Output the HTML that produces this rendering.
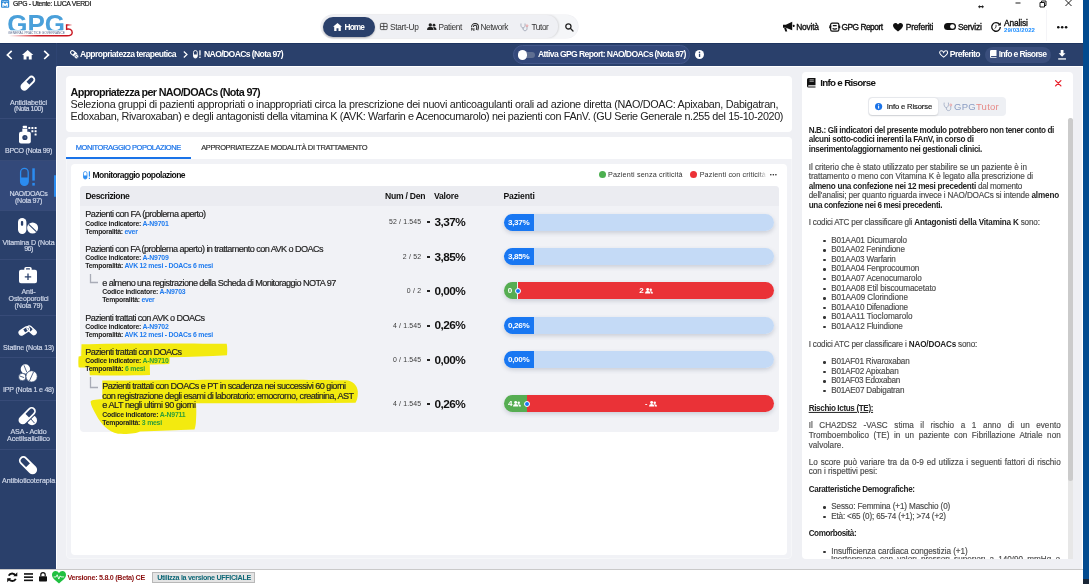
<!DOCTYPE html>
<html lang="it">
<head>
<meta charset="utf-8">
<title>GPG - Utente: LUCA VERDI</title>
<style>
*{box-sizing:border-box;margin:0;padding:0}
html,body{width:1089px;height:584px;overflow:hidden;background:#fff}
body{position:relative;font-family:"Liberation Sans",sans-serif;color:#222;font-size:9px}
body>div{will-change:transform}
.abs{position:absolute}
.t{position:absolute;white-space:nowrap;line-height:1;transform:translateY(-50%)}
.b{font-weight:bold}
.w{color:#fff}
svg{position:absolute;overflow:visible}
#titlebar{position:absolute;left:0;top:0;width:1083px;height:10px;background:#fff}
#header{position:absolute;left:0;top:10px;width:1083px;height:33px;background:#fff}
#navbar{position:absolute;left:0;top:43.300px;width:1083px;height:23px;background:#2a406b;box-shadow:inset 0 1px 0 #1e3560}
#sidebar{position:absolute;left:0;top:66px;width:57px;height:503px;background:#2a406b}
#main{position:absolute;left:56px;top:66px;width:1026px;height:503px;background:#eff0f4;border-top-left-radius:2px;box-shadow:inset 1px 1px 0 #fff}
#statusbar{position:absolute;left:0;top:569px;width:1083px;height:15px;background:#fff;border-top:1px solid #c9c9c9}
#edge{position:absolute;left:1083px;top:0;width:6px;height:584px;background:#024b8f}
#edge i{position:absolute;left:0;bottom:0;width:6px;height:5.500px;background:#1a2636}
.side{position:absolute;left:0;width:57px;border-bottom:1px solid #374b78}
.side .t{left:0;width:57px;text-align:center;color:#cdd5e7;font-size:7.1px;-webkit-text-stroke:0.2px #cdd5e7;transform:translateY(-50%)}
.card{position:absolute;background:#fff;border-radius:4px}
.side .t i{font-style:normal}
.hn{color:#333;font-size:8.3px}
.hr{font-size:8.400px;color:#111;-webkit-text-stroke:0.350px #111}
#mc{position:absolute;left:-56px;top:-66px;width:0;height:0}
.row-t{font-size:9.1px;color:#222;-webkit-text-stroke:0.180px #222}
.sm{font-size:6.9px;font-weight:bold;color:#222}
.lk{color:#1f7bef}
.lg{color:#2f9e3a}
.nd{font-size:6.9px;color:#3a3a3a}
.val{font-size:11.8px;font-weight:bold;color:#111}
.bar{position:absolute;left:503.5px;width:270px;height:17px;border-radius:8.5px;overflow:hidden;box-shadow:0 2px 4px rgba(70,80,110,.22)}
.bar b{position:absolute;top:0;height:17px}
.p{font-size:8.15px;color:#4a4a4a;-webkit-text-stroke:0.150px #4a4a4a}
.p b,.pb{color:#222;font-weight:bold;-webkit-text-stroke:0}

</style>
</head>
<body>

<!-- ===== window title bar ===== -->
<div id="titlebar">
  <svg style="left:1px;top:0" width="8.200" height="7.800" viewBox="0 0 8.200 7.800"><rect width="8.200" height="7.800" rx="1" fill="#2f8ad8"/><path d="M1.300 6.800V3.200L2.700 2.600 4.100 4.300 5.500 2.600 6.900 3.200V6.800H5.600V5L4.100 6.400 2.600 5V6.800z" fill="#fff"/><path d="M1.500 1.400h5.200" stroke="#fff" stroke-width="0.700" stroke-dasharray="1 0.400"/></svg>
  <span class="t" style="left:13px;top:4px;font-size:6.800px;color:#111;-webkit-text-stroke:0.200px #222;letter-spacing:-0.307px">GPG - Utente: LUCA VERDI</span>
  <svg style="left:977.500px;top:5px" width="6" height="3.400" viewBox="0 0 6 3.400" fill="#222"><path d="M0 1.700L1.800 0v1.100h2.400V0L6 1.700 4.200 3.400V2.300H1.800v1.100z"/></svg>
  <svg style="left:1015px;top:0" width="60" height="9" viewBox="0 0 60 9" fill="none" stroke="#111" stroke-width="0.950"><path d="M0.500 3h5"/><path d="M25 2.500h4.500v4.500H25zM26.500 2.500V1h4.500v4.500h-1.500"/><path d="M50.500 0l6 6M56.500 0l-6 6"/></svg>
</div>

<!-- ===== application header ===== -->
<div id="header">
  <!-- logo -->
  <svg style="left:6.300px;top:3px" width="70" height="27" viewBox="0 0 70 27">
    <defs><linearGradient id="lg" x1="0" x2="1"><stop offset="0" stop-color="#d5202a" stop-opacity="0"/><stop offset="0.450" stop-color="#cf1d27"/><stop offset="1" stop-color="#c8141e"/></linearGradient>
    <linearGradient id="lg2" x1="0" x2="1"><stop offset="0.300" stop-color="#c8141e"/><stop offset="1" stop-color="#c8141e" stop-opacity="0"/></linearGradient></defs>
    <text x="1.300" y="20.100" font-family="Liberation Sans, sans-serif" font-weight="bold" font-size="25.200" fill="#4aa0da" textLength="57.800" lengthAdjust="spacingAndGlyphs">GPG</text>
    <rect x="0" y="17.300" width="61" height="7" fill="#fff"/>
    <text x="2" y="20.700" font-family="Liberation Sans, sans-serif" font-size="3.500" fill="#56678c" textLength="57" lengthAdjust="spacingAndGlyphs">GENERAL PRACTICE GOVERNANCE</text>
    <path d="M60.600 11.800V16.300C63.200 15.600 66.200 16.400 66.200 19.400 66.200 22 64 22.800 61 22.800H3" fill="none" stroke="url(#lg)" stroke-width="1.400"/>
    <rect x="59.900" y="11.300" width="6.500" height="1.300" fill="url(#lg2)"/>
  </svg>

  <!-- centre navigation pill -->
  <div class="abs" style="left:321px;top:4.800px;width:256.500px;height:23.400px;border-radius:11.700px;background:#f5f6f8;box-shadow:0 0 0 0.600px #eeeef2"></div>
  <div class="abs" style="left:321.500px;top:5.300px;width:236px;height:22.400px;border-radius:11.200px;background:#eff0f4;box-shadow:1px 0 2px rgba(0,0,0,.12)"></div>
  <div class="abs" style="left:322.500px;top:6.500px;width:52px;height:20px;border-radius:10px;background:#2a406b;box-shadow:0 1px 2px rgba(0,0,0,.25)"></div>
  <svg style="left:333px;top:12.500px" width="9" height="8" viewBox="0 0 9 8"><path d="M4.500 0L0 3.800h1.200V8h2.300V5.200h2V8h2.300V3.800H9z" fill="#fff"/></svg>
  <span class="t b w" style="left:344.600px;top:17px;font-size:8.300px;letter-spacing:-0.941px">Home</span>

  <svg style="left:380.400px;top:13px" width="7.500" height="7" viewBox="0 0 7.500 7" fill="none" stroke="#333" stroke-width="0.800"><rect x="0.400" y="0.400" width="6.700" height="6.200" rx="0.800"/><path d="M0.400 3.500h6.700M3.750 0.400v6.200"/></svg>
  <span class="t hn" style="left:390px;top:17px;letter-spacing:-0.299px">Start-Up</span>
  <svg style="left:427.300px;top:13px" width="9.500" height="7" viewBox="0 0 9.500 7" fill="#222"><circle cx="3.300" cy="1.900" r="1.700"/><path d="M0 7c0-2.300 1.400-3.200 3.300-3.200S6.600 4.700 6.600 7z"/><circle cx="7" cy="2.200" r="1.400"/><path d="M7.300 7h2.200c0-2.200-1-3-2.500-3-.4 0-.7.100-1 .2.800.6 1.300 1.500 1.300 2.800z"/></svg>
  <span class="t hn" style="left:438.600px;top:17px;letter-spacing:-0.349px">Patient</span>
  <svg style="left:470.500px;top:12.900px" width="7.800" height="7.800" viewBox="0 0 8.500 8.500" fill="none" stroke="#222" stroke-width="1.100"><path d="M0.600 4.500C0.600 2.200 2.300 0.600 4.500 0.600s3.600 1.500 3.600 3.400c0 1.600-.3 2.800-.8 3.800M2.600 4.400c0-1.100.8-1.900 1.900-1.900s1.800.8 1.800 1.800c0 1.300-.2 2.300-.6 3.200"/><path d="M0.700 8.300V5.400l2.500 2.900V5.400" stroke-width="0.900"/></svg>
  <span class="t hn" style="left:480.400px;top:17px;letter-spacing:-0.405px">Network</span>
  <svg style="left:520.400px;top:13px" width="8.500" height="8" viewBox="0 0 8.500 8" fill="none" stroke="#8c93a5" stroke-width="0.700"><path d="M1 0.500C0.500 3 1.500 5 3 5s2.500-2 2-4.500M3 5c0 2 .8 2.700 2 2.700S7 7 7 5.500V3.500"/><circle cx="7" cy="2.700" r="0.900" stroke="#e58a8a"/></svg>
  <span class="t hn" style="left:531.400px;top:17px;letter-spacing:-0.392px">Tutor</span>
  <svg style="left:564.500px;top:12.500px" width="8.500" height="8.500" viewBox="0 0 8.500 8.500" fill="none" stroke="#222" stroke-width="1.300"><circle cx="3.400" cy="3.400" r="2.600"/><path d="M5.300 5.300L8 8" stroke-linecap="round"/></svg>

  <!-- right tools -->
  <svg style="left:783px;top:11.300px" width="11.500" height="11" viewBox="0 0 10 9" fill="#111"><path d="M0 3h2.500L8 0.300v7.400L2.500 5.500H0zM1 5.800h1.800l.9 3H2z"/><rect x="8.600" y="3" width="1.400" height="2" rx="0.500"/></svg>
  <span class="t hr" style="left:796.300px;top:17px;letter-spacing:-0.225px">Novità</span>
  <svg style="left:828.800px;top:11.500px" width="11.500" height="10" viewBox="0 0 10.500 9" fill="none" stroke="#111" stroke-width="1.100"><rect x="1.500" y="1" width="7.500" height="7.300" rx="1.300"/><path d="M0.300 3.300l1.200 1L0.300 5.500M10.200 3.300L9 4.300l1.200 1.200M3.300 5.800c.7.800 3.200.8 3.900 0M3.500 3.200h3.500"/></svg>
  <span class="t hr" style="left:841.400px;top:17px;letter-spacing:-0.489px">GPG Report</span>
  <svg style="left:892.900px;top:12.500px" width="10" height="8.500" viewBox="0 0 10 8.500"><path d="M5 8.500C1.500 5.800 0 4.300 0 2.500 0 1 1.100 0 2.500 0 3.500 0 4.500.6 5 1.500 5.500.6 6.500 0 7.500 0 8.900 0 10 1 10 2.500c0 1.800-1.500 3.300-5 6z" fill="#111"/></svg>
  <span class="t hr" style="left:905.700px;top:17px;letter-spacing:-0.140px">Preferiti</span>
  <svg style="left:943.500px;top:13.400px" width="12" height="7" viewBox="0 0 12 7"><rect width="12" height="7" rx="3.500" fill="#111"/><circle cx="8.400" cy="3.500" r="2.300" fill="#fff"/></svg>
  <span class="t hr" style="left:957.900px;top:17px;letter-spacing:-0.192px">Servizi</span>
  <svg style="left:991.300px;top:12px" width="10" height="10" viewBox="0 0 10 10" fill="none" stroke="#111" stroke-width="1.350"><path d="M8.600 2.600A4.300 4.300 0 1 0 9.300 5"/><path d="M9.800 0.300v3.100H6.700z" fill="#111" stroke="none"/><path d="M5 2.800V5.300L3.600 6.500" stroke-width="0.800"/></svg>
  <span class="t hr" style="left:1004px;top:13.300px;letter-spacing:-0.139px">Analisi</span>
  <span class="t b" style="left:1004px;top:20.100px;font-size:6px;color:#1a8cff;letter-spacing:0.097px">29/03/2022</span>
  <div class="abs" style="left:1046px;top:0;width:1px;height:31px;background:#f4f4f7"></div>
  <svg style="left:1057.200px;top:15.700px" width="10.400" height="2.600" viewBox="0 0 10.400 2.600" fill="#111"><circle cx="1.300" cy="1.300" r="1.300"/><circle cx="5.200" cy="1.300" r="1.300"/><circle cx="9.100" cy="1.300" r="1.300"/></svg>
</div>

<!-- ===== navy breadcrumb bar ===== -->
<div id="navbar">
  <svg style="left:0;top:0" width="57" height="23" viewBox="0 43.300 57 23" fill="none" stroke="#fff" stroke-width="1.700"><path d="M11.700 51.100L7.400 55.200l4.300 4.100"/><path d="M44.200 51.100l4.300 4.100-4.300 4.100"/><path d="M27.650 50.300L22 55.300h1.600v4.600h2.900v-3.100h2.300v3.100h2.900v-4.600h1.600z" fill="#fff" stroke="none"/></svg>
  <div class="abs" style="left:55.500px;top:0;width:1px;height:23px;background:#2e4472"></div>
  <svg style="left:69.500px;top:7px" width="9" height="9" viewBox="0 0 9 9"><g transform="rotate(38 3.600 3.400)"><rect x="0.200" y="1.600" width="7" height="3.600" rx="1.800" fill="none" stroke="#fff" stroke-width="1.100"/><path d="M3.700 1.600h1.700a1.800 1.800 0 0 1 0 3.600H3.700z" fill="#fff"/></g><circle cx="6.500" cy="6.600" r="2.100" fill="#fff" stroke="#2a406b" stroke-width="0.500"/><path d="M5.200 5.500l2.600 2.200" stroke="#2a406b" stroke-width="0.600"/></svg>
  <span class="t b w" style="left:80px;top:11.400px;font-size:8.600px;letter-spacing:-0.551px">Appropriatezza terapeutica</span>
  <svg style="left:183px;top:8.300px" width="5" height="7" viewBox="0 0 5 7" fill="none" stroke="#fff" stroke-width="1.200"><path d="M0.800 0.500L4 3.500 0.800 6.500"/></svg>
  <svg style="left:193px;top:7.300px" width="8.500" height="8.500" viewBox="0 0 8.500 8.500"><rect x="0.500" y="0.500" width="3.800" height="7.500" rx="1.900" fill="none" stroke="#fff" stroke-width="0.900"/><path d="M0.500 4.500h3.800v1.600a1.900 1.900 0 0 1-3.800 0z" fill="#fff"/><rect x="6.300" y="0.300" width="1.300" height="5.200" fill="#fff"/><rect x="6.300" y="6.600" width="1.300" height="1.400" fill="#fff"/></svg>
  <span class="t b w" style="left:204px;top:11.400px;font-size:8.600px;letter-spacing:-0.618px">NAO/DOACs (Nota 97)</span>

  <div class="abs" style="left:513px;top:2px;width:177.300px;height:19px;border-radius:9.500px;background:#33487a;border:1px solid #43578a"></div>
  <div class="abs" style="left:518px;top:8.600px;width:16.500px;height:6.500px;border-radius:3.300px;background:#5f6f92"></div>
  <div class="abs" style="left:517.500px;top:7px;width:9.500px;height:9.500px;border-radius:50%;background:#fff"></div>
  <span class="t b w" style="left:538px;top:11.400px;font-size:8.600px;letter-spacing:-0.624px">Attiva GPG Report: NAO/DOACs (Nota 97)</span>
  <svg style="left:695px;top:7px" width="9" height="9" viewBox="0 0 9 9"><circle cx="4.500" cy="4.500" r="4.500" fill="#fff"/><rect x="3.900" y="3.700" width="1.300" height="3.300" fill="#2a406b"/><circle cx="4.500" cy="2.300" r="0.800" fill="#2a406b"/></svg>

  <svg style="left:939px;top:7.300px" width="9.300" height="8.200" viewBox="0 0 10 8.500"><path d="M5 7.600C2 5.300.7 4 .7 2.500.7 1.400 1.500.7 2.500.7c1 0 2 .7 2.500 1.800C5.500 1.400 6.500.7 7.500.7c1 0 1.800.7 1.800 1.800 0 1.500-1.300 2.800-4.300 5.100z" fill="none" stroke="#fff" stroke-width="1.100"/></svg>
  <span class="t b w" style="left:949.800px;top:11.400px;font-size:8.600px;letter-spacing:-0.583px">Preferito</span>
  <div class="abs" style="left:984.700px;top:3.700px;width:66px;height:16.500px;border-radius:8.300px;background:#3a4e7c"></div>
  <svg style="left:989.500px;top:7.400px" width="6.500" height="8" viewBox="0 0 6.500 8"><path d="M1.300 0h5.200v6H1.500a.6.600 0 0 0 0 1.200h5V8H1.300A1.300 1.300 0 0 1 0 6.700V1.300A1.300 1.300 0 0 1 1.300 0z" fill="#fff"/></svg>
  <span class="t b w" style="left:998.700px;top:11.400px;font-size:8.600px;letter-spacing:-0.653px">Info e Risorse</span>
  <svg style="left:1058.200px;top:6.600px" width="8.200" height="10" viewBox="0 0 8.200 10" fill="#fff"><path d="M2.700 0h2.800v3.300h2L4.100 6.800.7 3.300h2z"/><rect x="0.200" y="8.300" width="7.800" height="1.300"/></svg>
</div>

<!-- ===== left sidebar ===== -->
<div id="sidebar">
  <div class="side" style="top:0px;height:53px">
    <svg style="left:0;top:0" width="57" height="53" viewBox="0 66 57 53"><g transform="translate(27.9 83.2) rotate(-45)"><rect x="-7.95" y="-2.95" width="15.90" height="5.90" rx="2.95" fill="none" stroke="#fff" stroke-width="1.8"/><path d="M0 -2.95H-5.00A2.95 2.95 0 0 0 -5.00 2.95H0z" fill="#fff"/></g></svg>
    <span class="t" style="top:37.6px"><i style="letter-spacing:-0.097px">Antidiabetici</i></span><span class="t" style="top:44.0px"><i style="letter-spacing:-0.452px">(Nota 100)</i></span>
  </div>
  <div class="side" style="top:53px;height:42px">
    <svg style="left:0;top:0" width="57" height="42" viewBox="0 119 57 42"><g fill="#fff"><rect x="19" y="131.800" width="11.800" height="11.800" rx="2"/><rect x="22.300" y="128.600" width="5" height="3.500"/><rect x="22.800" y="125.800" width="4.200" height="2.300" rx="0.500"/><circle cx="24.900" cy="137.500" r="2.600" fill="#2a406b"/><circle cx="25.300" cy="137.500" r="0.900" fill="#51648c"/><rect x="28.3" y="127" width="2" height="2" rx="0.300"/><rect x="31.4" y="127" width="2" height="2" rx="0.300"/><rect x="34.6" y="127" width="2" height="2" rx="0.300"/><rect x="31.4" y="130.3" width="2" height="2" rx="0.300"/><rect x="34.6" y="130.3" width="2" height="2" rx="0.300"/><rect x="34.6" y="133.6" width="2" height="2" rx="0.300"/></g></svg>
    <span class="t" style="top:33.2px"><i style="letter-spacing:-0.333px">BPCO (Nota 99)</i></span>
  </div>
  <div class="side" style="top:95px;height:49.700px;background:#33497a">
    <div class="abs" style="left:53.500px;top:14px;width:2.500px;height:22px;border-radius:1.200px;background:#2b8cf0"></div>
    <svg style="left:0;top:0" width="57" height="49" viewBox="0 161 57 49"><rect x="20.600" y="168.400" width="7.600" height="17" rx="3.800" fill="none" stroke="#2b8cf0" stroke-width="1.300"/><path d="M20.600 177.500h7.600v4.100a3.800 3.800 0 0 1-7.600 0z" fill="#2b8cf0"/><rect x="32.300" y="168.300" width="2.500" height="12.300" fill="#2b8cf0"/><rect x="32.300" y="182.900" width="2.500" height="2.700" fill="#2b8cf0"/></svg>
    <span class="t" style="top:34.0px"><i style="letter-spacing:-0.377px">NAO/DOACs</i></span><span class="t" style="top:40.6px"><i style="letter-spacing:-0.286px">(Nota 97)</i></span>
  </div>
  <div class="side" style="top:144px;height:50px">
    <svg style="left:0;top:0" width="57" height="50" viewBox="0 210 57 50"><rect x="18" y="217.900" width="8.400" height="16" rx="4.200" fill="#fff"/><rect x="20.900" y="221" width="2.300" height="4.700" rx="0.900" fill="#2a406b"/><circle cx="32.600" cy="228" r="5.500" fill="#fff"/><path d="M28.700 224.300l7.900 7.600" stroke="#2a406b" stroke-width="1.100"/></svg>
    <span class="t" style="top:33.9px"><i style="letter-spacing:-0.118px">Vitamina D (Nota</i></span><span class="t" style="top:40.4px"><i style="letter-spacing:-0.589px">96)</i></span>
  </div>
  <div class="side" style="top:194px;height:55.500px">
    <svg style="left:0;top:0" width="57" height="55" viewBox="0 260 57 55"><path d="M24.300 269.800v-1.300a1.600 1.600 0 0 1 1.600-1.600h4.200a1.600 1.600 0 0 1 1.600 1.600v1.300H35a2 2 0 0 1 2 2v9.500a2 2 0 0 1-2 2H21a2 2 0 0 1-2-2v-9.500a2 2 0 0 1 2-2zm1.700-.300h4v-.8a.5.500 0 0 0-.5-.5h-3a.5.500 0 0 0-.5.500z" fill="#fff"/><path d="M28 273.600v6.400M24.800 276.800h6.400" stroke="#2a406b" stroke-width="1.300"/></svg>
    <span class="t" style="top:33.1px"><i style="letter-spacing:-0.119px">Anti-</i></span><span class="t" style="top:39.8px"><i style="letter-spacing:-0.138px">Osteoporotici</i></span><span class="t" style="top:46.6px"><i style="letter-spacing:-0.175px">(Nota 79)</i></span>
  </div>
  <div class="side" style="top:249px;height:43px">
    <svg style="left:0;top:0" width="57" height="43" viewBox="0 315 57 43"><g transform="translate(24.2 330.9) rotate(-32)"><rect x="-5.60" y="-2.45" width="11.20" height="4.90" rx="2.45" fill="none" stroke="#fff" stroke-width="1.3"/><path d="M0 -2.45H-3.15A2.45 2.45 0 0 0 -3.15 2.45H0z" fill="#fff"/></g><g transform="translate(31.6 330.3) rotate(42)"><rect x="-5.35" y="-2.25" width="10.70" height="4.50" rx="2.25" fill="none" stroke="#fff" stroke-width="1.3"/><path d="M0 -2.25H3.10A2.25 2.25 0 0 1 3.10 2.25H0z" fill="#fff"/></g></svg>
    <span class="t" style="top:33.7px"><i style="letter-spacing:-0.155px">Statine (Nota 13)</i></span>
  </div>
  <div class="side" style="top:292px;height:42.5px">
    <svg style="left:0;top:0" width="57" height="42.5" viewBox="0 358 57 42.5"><circle cx="25.400" cy="369" r="4.700" fill="#fff"/><circle cx="22.300" cy="377" r="3.700" fill="#fff" stroke="#2a406b" stroke-width="0.700"/><circle cx="31.600" cy="376.400" r="5.700" fill="#fff" stroke="#2a406b" stroke-width="0.800"/><path d="M24 365.300l2.800 7M33.700 371.600l-4.400 9.600M19.800 376l4.300 1.600" stroke="#2a406b" stroke-width="0.800" fill="none"/></svg>
    <span class="t" style="top:33.2px"><i style="letter-spacing:-0.217px">IPP (Nota 1 e 48)</i></span>
  </div>
  <div class="side" style="top:334.5px;height:49px">
    <svg style="left:0;top:0" width="57" height="49" viewBox="0 400.5 57 49"><circle cx="32" cy="419.800" r="5" fill="#fff"/><path d="M30.500 418l4 4.600" stroke="#2a406b" stroke-width="0.900"/><g transform="translate(27.200 415.200) rotate(-45)"><rect x="-11.500" y="-5.200" width="23" height="10.400" rx="5.200" fill="#2a406b"/></g><g transform="translate(27.2 415.2) rotate(-45)"><rect x="-9.65" y="-3.35" width="19.30" height="6.70" rx="3.35" fill="none" stroke="#fff" stroke-width="1.7"/><path d="M0 -3.35H-6.30A3.35 3.35 0 0 0 -6.30 3.35H0z" fill="#fff"/></g></svg>
    <span class="t" style="top:32.9px"><i style="letter-spacing:-0.134px">ASA - Acido</i></span><span class="t" style="top:39.4px"><i style="letter-spacing:-0.048px">Acetilsalicilico</i></span>
  </div>
  <div class="side" style="top:383.5px;height:46px;border-bottom:none">
    <svg style="left:0;top:0" width="57" height="46" viewBox="0 449.5 57 46"><g transform="translate(28 464.7) rotate(45)"><rect x="-10.10" y="-3.60" width="20.20" height="7.20" rx="3.60" fill="none" stroke="#fff" stroke-width="1.8"/><path d="M0 -3.60H6.50A3.60 3.60 0 0 1 6.50 3.60H0z" fill="#fff"/></g></svg>
    <span class="t" style="top:32.7px"><i style="letter-spacing:-0.079px">Antibioticoterapia</i></span>
  </div>
</div>

<!-- ===== main content ===== -->
<div id="main">

<div id="mc">
  <!-- title card -->
  <div class="card" style="left:66px;top:76px;width:726px;height:55.600px"></div>
  <span class="t b" style="left:70.600px;top:91.900px;font-size:10.800px;color:#111;letter-spacing:-0.668px">Appropriatezza per NAO/DOACs (Nota 97)</span>
  <span class="t" style="left:70.600px;top:104px;font-size:10.800px;color:#222;letter-spacing:-0.292px">Seleziona gruppi di pazienti appropriati o inappropriati circa la prescrizione dei nuovi anticoagulanti orali ad azione diretta (NAO/DOAC: Apixaban, Dabigatran,</span>
  <span class="t" style="left:70.600px;top:116.300px;font-size:10.800px;color:#222;letter-spacing:-0.365px">Edoxaban, Rivaroxaban) e degli antagonisti della vitamina K (AVK: Warfarin e Acenocumarolo) nei pazienti con FAnV. (GU Serie Generale n.255 del 15-10-2020)</span>

  <!-- tab card -->
  <div class="card" style="left:66px;top:137px;width:726px;height:422px;background:#f1f2f6;border:1.500px solid #f6f7f9"></div>
  <div class="abs" style="left:66px;top:137px;width:726px;height:22px;background:#fff;border-radius:4px 4px 0 0"></div>
  <div class="abs" style="left:66px;top:157px;width:125px;height:2px;background:#1a73e8"></div>
  <span class="t" style="left:75.800px;top:148.200px;font-size:7.500px;color:#1a73e8;-webkit-text-stroke:0.200px #1a73e8;letter-spacing:-0.447px">MONITORAGGIO POPOLAZIONE</span>
  <span class="t" style="left:201.200px;top:148.200px;font-size:7.500px;color:#333;-webkit-text-stroke:0.200px #333;letter-spacing:-0.365px">APPROPRIATEZZA E MODALITÀ DI TRATTAMENTO</span>

  <!-- inner white card -->
  <div class="card" style="left:71px;top:164px;width:716px;height:390.600px;border-radius:4px"></div>
  <svg style="left:82.700px;top:170.500px" width="7.500" height="8.500" viewBox="0 0 7.500 8.500"><rect x="0.500" y="0.500" width="3.500" height="7.500" rx="1.750" fill="#fff" stroke="#2b8cf0" stroke-width="0.800"/><path d="M0.500 4.500H4v1.700a1.750 1.750 0 0 1-3.500 0z" fill="#2b8cf0"/><rect x="5.800" y="0.300" width="1.200" height="5.300" fill="#2b8cf0"/><rect x="5.800" y="6.700" width="1.200" height="1.300" fill="#2b8cf0"/></svg>
  <span class="t b" style="left:92.600px;top:174.900px;font-size:8.500px;color:#111;letter-spacing:-0.557px">Monitoraggio popolazione</span>
  <div class="abs" style="left:598.700px;top:171.300px;width:7px;height:7px;border-radius:50%;background:#4caf50"></div>
  <span class="t" style="left:608px;top:175.100px;font-size:7.200px;color:#333;letter-spacing:0.150px">Pazienti senza criticità</span>
  <div class="abs" style="left:689.600px;top:171.300px;width:7px;height:7px;border-radius:50%;background:#ec3237"></div>
  <span class="t" style="left:699.700px;top:175.100px;font-size:7.200px;color:#333;letter-spacing:0.127px">Pazienti con criticità</span>
  <div class="abs" style="left:758px;top:170px;width:9px;height:10px;background:linear-gradient(90deg,rgba(255,255,255,0),#fff)"></div>
  <svg style="left:770px;top:174px" width="6.700" height="1.600" viewBox="0 0 6.700 1.600" fill="#222"><circle cx="0.800" cy="0.800" r="0.800"/><circle cx="3.350" cy="0.800" r="0.800"/><circle cx="5.900" cy="0.800" r="0.800"/></svg>

  <!-- indicator table -->
  <div class="abs" style="left:80.200px;top:185.500px;width:698.600px;height:246px;border-radius:4px;background:#f1f2f6"></div>
  <div class="abs" style="left:80.200px;top:185.500px;width:698.600px;height:20px;border-radius:4px 4px 0 0;background:#ebecf1"></div>
  <span class="t b" style="left:85.500px;top:195.600px;font-size:8.600px;color:#111;letter-spacing:-0.386px">Descrizione</span>
  <span class="t b" style="left:385px;top:195.600px;font-size:8.600px;color:#111;letter-spacing:-0.244px">Num / Den</span>
  <span class="t b" style="left:434px;top:195.600px;font-size:8.600px;color:#111;letter-spacing:-0.219px">Valore</span>
  <span class="t b" style="left:503.500px;top:195.600px;font-size:8.600px;color:#111;letter-spacing:-0.161px">Pazienti</span>

  <!-- yellow highlighter marks -->
  <svg style="left:0;top:0" width="400" height="440" viewBox="0 0 400 440"><path d="M81.500 344.300C120 343 190 343.500 226.700 343.800 227.500 348 227.300 352 227 355.300 208 356.500 190 357 169.500 357.300 169.800 360 169.600 362 169.300 364 163 364.300 156 364.400 149.800 364.400L150 375C130 375.600 105 375.400 89.800 375.200 89.600 372 89.600 369.500 89.700 367.400 86 367.600 81 367.500 78.600 367.200 78.200 363 78.300 359.500 78.600 356.400 79.500 356.300 80.500 356.200 81.200 356z" fill="#f3ea0f"/><path d="M102.300 380.600C170 379.700 300 379.200 346 380.300 352 380.800 357.500 385 357.800 391.500 358 396.500 357 400.500 355.500 402.800 300 403.500 250 403.300 196 403.300 196.300 407 196.500 413 196 419.800 196 423 195.500 427 194.500 429.500 175 430.500 160 430.600 140 431.500 137 433.500 128 434.300 118 433.800 108 431.500 101 424 96.500 415.500 93 409.500 91 405.500 90.600 402 90.600 400.300 95 399.300 102.300 399.300z" fill="#f3ea0f"/></svg>

  <!-- row 1 -->
  <span class="t row-t" style="left:85.300px;top:215.2px;letter-spacing:-0.521px">Pazienti con FA (problema aperto)</span>
  <span class="t sm" style="left:85.300px;top:224.1px;letter-spacing:-0.237px">Codice indicatore: <span class="lk">A-N9701</span></span>
  <span class="t sm" style="left:85.300px;top:231.9px;letter-spacing:-0.274px">Temporalità: <span class="lk">ever</span></span>
  <!-- row 2 -->
  <span class="t row-t" style="left:85.300px;top:249.8px;letter-spacing:-0.556px">Pazienti con FA (problema aperto) in trattamento con AVK o DOACs</span>
  <span class="t sm" style="left:85.300px;top:257.800px;letter-spacing:-0.237px">Codice indicatore: <span class="lk">A-N9709</span></span>
  <span class="t sm" style="left:85.300px;top:266.4px;letter-spacing:-0.248px">Temporalità: <span class="lk">AVK 12 mesi - DOACs 6 mesi</span></span>
  <!-- row 3 (child) -->
  <svg style="left:89.500px;top:274px" width="8" height="9" viewBox="0 0 8 9" fill="none" stroke="#a9acb7" stroke-width="1.300"><path d="M0.500 0v8.500H8"/></svg>
  <span class="t row-t" style="left:102.200px;top:283.5px;letter-spacing:-0.558px">e almeno una registrazione della Scheda di Monitoraggio NOTA 97</span>
  <span class="t sm" style="left:102.200px;top:292.4px;letter-spacing:-0.237px">Codice indicatore: <span class="lk">A-N9703</span></span>
  <span class="t sm" style="left:102.200px;top:300.4px;letter-spacing:-0.274px">Temporalità: <span class="lk">ever</span></span>
  <!-- row 4 -->
  <span class="t row-t" style="left:85.300px;top:318.5px;letter-spacing:-0.561px">Pazienti trattati con AVK o DOACs</span>
  <span class="t sm" style="left:85.300px;top:327.2px;letter-spacing:-0.237px">Codice indicatore: <span class="lk">A-N9702</span></span>
  <span class="t sm" style="left:85.300px;top:335.1px;letter-spacing:-0.248px">Temporalità: <span class="lk">AVK 12 mesi - DOACs 6 mesi</span></span>
  <!-- row 5 -->
  <span class="t row-t" style="left:85.300px;top:352.9px;letter-spacing:-0.533px">Pazienti trattati con DOACs</span>
  <span class="t sm" style="left:85.300px;top:361.1px;letter-spacing:-0.237px">Codice indicatore: <span class="lg">A-N9710</span></span>
  <span class="t sm" style="left:85.300px;top:369.3px;letter-spacing:-0.238px">Temporalità: <span class="lg">6 mesi</span></span>
  <!-- row 6 (child) -->
  <svg style="left:89.500px;top:376.500px" width="8" height="11" viewBox="0 0 8 11" fill="none" stroke="#a9acb7" stroke-width="1.300"><path d="M0.500 0v10.500H8"/></svg>
  <span class="t row-t" style="left:102.200px;top:387.3px;letter-spacing:-0.523px">Pazienti trattati con DOACs e PT in scadenza nei successivi 60 giorni</span>
  <span class="t row-t" style="left:102.200px;top:396.9px;letter-spacing:-0.509px">con registrazione degli esami di laboratorio: emocromo, creatinina, AST</span>
  <span class="t row-t" style="left:102.200px;top:405.8px;letter-spacing:-0.447px">e ALT negli ultimi 90 giorni</span>
  <span class="t sm" style="left:102.200px;top:414.8px;letter-spacing:-0.222px">Codice indicatore: <span class="lg">A-N9711</span></span>
  <span class="t sm" style="left:102.200px;top:423.1px;letter-spacing:-0.238px">Temporalità: <span class="lg">3 mesi</span></span>

  <!-- numeric columns -->
  <span class="t nd" style="left:389px;top:222.2px;letter-spacing:0.164px">52 / 1.545</span><div class="abs" style="left:427.400px;top:221px;width:2.800px;height:1.800px;background:#222"></div><span class="t val" style="left:434.400px;top:222.8px;letter-spacing:-0.531px">3,37%</span>
  <span class="t nd" style="left:402.8px;top:256.9px;letter-spacing:0.208px">2 / 52</span><div class="abs" style="left:427.400px;top:256px;width:2.800px;height:1.800px;background:#222"></div><span class="t val" style="left:434.400px;top:257.5px;letter-spacing:-0.531px">3,85%</span>
  <span class="t nd" style="left:406.7px;top:291.2px;letter-spacing:0.236px">0 / 2</span><div class="abs" style="left:427.400px;top:290px;width:2.800px;height:1.800px;background:#222"></div><span class="t val" style="left:434.400px;top:291.8px;letter-spacing:-0.531px">0,00%</span>
  <span class="t nd" style="left:393px;top:325.7px;letter-spacing:0.164px">4 / 1.545</span><div class="abs" style="left:427.400px;top:325px;width:2.800px;height:1.800px;background:#222"></div><span class="t val" style="left:434.400px;top:326.3px;letter-spacing:-0.531px">0,26%</span>
  <span class="t nd" style="left:393px;top:360px;letter-spacing:0.164px">0 / 1.545</span><div class="abs" style="left:427.400px;top:359px;width:2.800px;height:1.800px;background:#222"></div><span class="t val" style="left:434.400px;top:360.6px;letter-spacing:-0.531px">0,00%</span>
  <span class="t nd" style="left:393px;top:404px;letter-spacing:0.164px">4 / 1.545</span><div class="abs" style="left:427.400px;top:403px;width:2.800px;height:1.800px;background:#222"></div><span class="t val" style="left:434.400px;top:404.6px;letter-spacing:-0.531px">0,26%</span>

  <!-- bars -->
  <div class="bar" style="top:214px;background:linear-gradient(90deg,#1877f2 30.500px,#c4daf6 30.500px)"></div><span class="t b w" style="left:508px;top:222.6px;font-size:8.100px;letter-spacing:-0.331px">3,37%</span>
  <div class="bar" style="top:248px;background:linear-gradient(90deg,#1877f2 30.500px,#c4daf6 30.500px)"></div><span class="t b w" style="left:508px;top:257.1px;font-size:8.100px;letter-spacing:-0.331px">3,85%</span>
  <div class="bar" style="top:282.400px;background:linear-gradient(90deg,#56ad52 12.800px,#e8f3f3 12.800px,#e8f3f3 13.600px,#ea3237 13.600px)"></div><span class="t b w" style="left:507.700px;top:291.300px;font-size:8px">0</span><div class="abs" style="left:514.600px;top:288px;width:6.200px;height:6.200px;border-radius:50%;background:#1877f2;border:0.800px solid #fff"></div><span class="t b w" style="left:639.300px;top:291.300px;font-size:8px">2</span><svg style="left:645px;top:288.2px" width="8" height="5.600" viewBox="0 0 10 7" fill="#fff"><circle cx="3.300" cy="1.900" r="1.800"/><path d="M0 7c0-2.300 1.400-3.200 3.300-3.200S6.600 4.700 6.600 7z"/><circle cx="7.200" cy="2.100" r="1.500"/><path d="M7.400 7H10c0-2.200-1.200-3-2.800-3-.4 0-.7.100-1 .2.800.6 1.200 1.500 1.200 2.800z"/></svg>
  <div class="bar" style="top:317px;background:linear-gradient(90deg,#1877f2 30.500px,#c4daf6 30.500px)"></div><span class="t b w" style="left:508px;top:325.6px;font-size:8.100px;letter-spacing:-0.331px">0,26%</span>
  <div class="bar" style="top:351.4px;background:linear-gradient(90deg,#1877f2 30.500px,#c4daf6 30.500px)"></div><span class="t b w" style="left:508px;top:360.0px;font-size:8.100px;letter-spacing:-0.331px">0,00%</span>
  <div class="bar" style="top:395.300px;background:linear-gradient(90deg,#56ad52 22.600px,#e8f3f3 22.600px,#e8f3f3 23.400px,#ea3237 23.400px)"></div><span class="t b w" style="left:508px;top:404.300px;font-size:8px">4</span><svg style="left:513px;top:401.2px" width="8" height="5.600" viewBox="0 0 10 7" fill="#fff"><circle cx="3.300" cy="1.900" r="1.800"/><path d="M0 7c0-2.300 1.400-3.200 3.300-3.200S6.600 4.700 6.600 7z"/><circle cx="7.200" cy="2.100" r="1.500"/><path d="M7.400 7H10c0-2.200-1.200-3-2.800-3-.4 0-.7.100-1 .2.800.6 1.200 1.500 1.200 2.800z"/></svg><div class="abs" style="left:523.900px;top:400.800px;width:6.200px;height:6.200px;border-radius:50%;background:#1877f2;border:0.800px solid #fff"></div><span class="t b w" style="left:645px;top:404px;font-size:7.200px">-</span><svg style="left:649px;top:401.2px" width="8" height="5.600" viewBox="0 0 10 7" fill="#fff"><circle cx="3.300" cy="1.900" r="1.800"/><path d="M0 7c0-2.300 1.400-3.200 3.300-3.200S6.600 4.700 6.600 7z"/><circle cx="7.200" cy="2.100" r="1.500"/><path d="M7.400 7H10c0-2.200-1.200-3-2.800-3-.4 0-.7.100-1 .2.800.6 1.200 1.500 1.200 2.800z"/></svg>

  <!-- ===== Info e Risorse panel ===== -->
  <div class="card" style="left:801.700px;top:72px;width:271.300px;height:487px"></div>
  <svg style="left:807.300px;top:78.300px" width="8.500" height="9.500" viewBox="0 0 8.500 9.500"><path d="M1.600 0h6.900v7.200H1.800a.7.700 0 0 0 0 1.400h6.700v.9H1.600A1.600 1.600 0 0 1 0 7.900V1.600A1.600 1.600 0 0 1 1.600 0z" fill="#111"/><path d="M2.500 1.800h4.300M2.500 3.300h4.300" stroke="#fff" stroke-width="0.600"/></svg>
  <span class="t b" style="left:820.200px;top:83.200px;font-size:9.800px;color:#111;letter-spacing:-0.700px">Info e Risorse</span>
  <svg style="left:1055.300px;top:79.800px" width="6.500" height="6.500" viewBox="0 0 6.500 6.500" stroke="#e8202a" stroke-width="1.300" stroke-linecap="round"><path d="M0.600 0.600l5.300 5.300M5.900 0.600L0.600 5.900"/></svg>

  <div class="abs" style="left:868.400px;top:96.700px;width:138px;height:19.300px;border-radius:4px;background:#eef0f4"></div>
  <div class="abs" style="left:869.300px;top:97.500px;width:68.300px;height:17.700px;border-radius:3.500px;background:#fff;box-shadow:0 0.500px 1.800px rgba(0,0,0,.14)"></div>
  <svg style="left:875px;top:102.800px" width="7.200" height="7.200" viewBox="0 0 9 9"><circle cx="4.500" cy="4.500" r="4.500" fill="#1a73e8"/><rect x="3.900" y="3.700" width="1.300" height="3.300" fill="#fff"/><circle cx="4.500" cy="2.300" r="0.800" fill="#fff"/></svg>
  <span class="t" style="left:886.800px;top:106.500px;font-size:7.600px;color:#222;-webkit-text-stroke:0.200px #222;letter-spacing:-0.119px">Info e Risorse</span>
  <svg style="left:943px;top:101.800px" width="9.500" height="9" viewBox="0 0 9.500 9" fill="none" stroke="#93a0bb" stroke-width="0.700"><path d="M1.200 0.600C0.600 3.500 1.800 5.600 3.300 5.600s2.700-2.100 2.100-5M3.300 5.600c0 2.200.9 3 2.200 3s2.300-.8 2.300-2.500V4"/><circle cx="7.800" cy="3" r="1" stroke="#e88d8d"/></svg>
  <span class="t" style="left:954px;top:106.500px;font-size:9.500px;color:#8b9dc3;letter-spacing:0.256px"><span>GPG</span><span style="color:#e78a87">Tutor</span></span>

  <!-- scrollbar -->
  <div class="abs" style="left:1068px;top:118px;width:5px;height:441px;border-radius:2.500px 2.500px 0 0;background:#e7e7e7"></div>
  <div class="abs" style="left:1068px;top:118.300px;width:5px;height:362.700px;border-radius:2.500px;background:#cbcbcb"></div>
  <span class="t p pb" style="left:808.7px;top:130.8px;letter-spacing:-0.365px">N.B.: Gli indicatori del presente modulo potrebbero non tener conto di</span>
  <span class="t p pb" style="left:808.7px;top:140.4px;letter-spacing:-0.312px">alcuni sotto-codici inerenti la FAnV, in corso di</span>
  <span class="t p pb" style="left:808.7px;top:149.8px;letter-spacing:-0.315px">inserimento/aggiornamento nei gestionali clinici.</span>
  <span class="t p" style="left:808.7px;top:167.5px;letter-spacing:-0.043px">Il criterio che è stato utilizzato per stabilire se un paziente è in</span>
  <span class="t p" style="left:808.7px;top:177.1px;letter-spacing:-0.056px">trattamento o meno con Vitamina K è legato alla prescrizione di</span>
  <span class="t p" style="left:808.7px;top:186.7px;letter-spacing:-0.273px"><b>almeno una confezione nei 12 mesi precedenti</b> dal momento</span>
  <span class="t p" style="left:808.7px;top:196.1px;letter-spacing:-0.136px">dell'analisi; per quanto riguarda invece i NAO/DOACs si intende <b>almeno</b></span>
  <span class="t p" style="left:808.7px;top:205.6px;letter-spacing:-0.349px"><b>una confezione nei 6 mesi precedenti.</b></span>
  <span class="t p" style="left:808.7px;top:223.1px;letter-spacing:-0.184px">I codici ATC per classificare gli <b>Antagonisti della Vitamina K</b> sono:</span>
  <div class="abs" style="left:823.300px;top:239.6px;width:2.600px;height:2.600px;border-radius:50%;background:#333"></div>  <span class="t p" style="left:831.2px;top:240.8px;letter-spacing:-0.105px">B01AA01 Dicumarolo</span>
  <div class="abs" style="left:823.300px;top:249.1px;width:2.600px;height:2.600px;border-radius:50%;background:#333"></div>  <span class="t p" style="left:831.2px;top:250.3px;letter-spacing:-0.178px">B01AA02 Fenindione</span>
  <div class="abs" style="left:823.300px;top:258.6px;width:2.600px;height:2.600px;border-radius:50%;background:#333"></div>  <span class="t p" style="left:831.2px;top:259.8px;letter-spacing:-0.156px">B01AA03 Warfarin</span>
  <div class="abs" style="left:823.300px;top:268.0px;width:2.600px;height:2.600px;border-radius:50%;background:#333"></div>  <span class="t p" style="left:831.2px;top:269.2px;letter-spacing:-0.163px">B01AA04 Fenprocoumon</span>
  <div class="abs" style="left:823.300px;top:277.7px;width:2.600px;height:2.600px;border-radius:50%;background:#333"></div>  <span class="t p" style="left:831.2px;top:278.9px;letter-spacing:-0.105px">B01AA07 Acenocumarolo</span>
  <div class="abs" style="left:823.300px;top:287.5px;width:2.600px;height:2.600px;border-radius:50%;background:#333"></div>  <span class="t p" style="left:831.2px;top:288.7px;letter-spacing:-0.083px">B01AA08 Etil biscoumacetato</span>
  <div class="abs" style="left:823.300px;top:297.0px;width:2.600px;height:2.600px;border-radius:50%;background:#333"></div>  <span class="t p" style="left:831.2px;top:298.2px;letter-spacing:-0.053px">B01AA09 Clorindione</span>
  <div class="abs" style="left:823.300px;top:306.5px;width:2.600px;height:2.600px;border-radius:50%;background:#333"></div>  <span class="t p" style="left:831.2px;top:307.7px;letter-spacing:-0.172px">B01AA10 Difenadione</span>
  <div class="abs" style="left:823.300px;top:316.0px;width:2.600px;height:2.600px;border-radius:50%;background:#333"></div>  <span class="t p" style="left:831.2px;top:317.2px;letter-spacing:-0.037px">B01AA11 Tioclomarolo</span>
  <div class="abs" style="left:823.300px;top:325.7px;width:2.600px;height:2.600px;border-radius:50%;background:#333"></div>  <span class="t p" style="left:831.2px;top:326.9px;letter-spacing:-0.144px">B01AA12 Fluindione</span>
  <span class="t p" style="left:808.7px;top:345.0px;letter-spacing:-0.169px">I codici ATC per classificare i <b>NAO/DOACs</b> sono:</span>
  <div class="abs" style="left:823.300px;top:361.2px;width:2.600px;height:2.600px;border-radius:50%;background:#333"></div>  <span class="t p" style="left:831.2px;top:362.4px;letter-spacing:-0.182px">B01AF01 Rivaroxaban</span>
  <div class="abs" style="left:823.300px;top:370.8px;width:2.600px;height:2.600px;border-radius:50%;background:#333"></div>  <span class="t p" style="left:831.2px;top:372.0px;letter-spacing:-0.136px">B01AF02 Apixaban</span>
  <div class="abs" style="left:823.300px;top:380.1px;width:2.600px;height:2.600px;border-radius:50%;background:#333"></div>  <span class="t p" style="left:831.2px;top:381.3px;letter-spacing:-0.246px">B01AF03 Edoxaban</span>
  <div class="abs" style="left:823.300px;top:389.5px;width:2.600px;height:2.600px;border-radius:50%;background:#333"></div>  <span class="t p" style="left:831.2px;top:390.7px;letter-spacing:-0.180px">B01AE07 Dabigatran</span>
  <span class="t p pb" style="left:808.7px;top:408.6px;letter-spacing:-0.365px"><span style="text-decoration:underline">Rischio Ictus (TE):</span></span>
  <span class="t p" style="left:808.7px;top:426.0px;width:252px;text-align:justify;text-align-last:justify;white-space:normal">Il CHA2DS2 -VASC stima il rischio a 1 anno di un evento</span>
  <span class="t p" style="left:808.7px;top:435.9px;width:252px;text-align:justify;text-align-last:justify;white-space:normal">Tromboembolico (TE) in un paziente con Fibrillazione Atriale non</span>
  <span class="t p" style="left:808.7px;top:445.5px;letter-spacing:0.022px">valvolare.</span>
  <span class="t p" style="left:808.7px;top:462.5px;width:252px;text-align:justify;text-align-last:justify;white-space:normal">Lo score può variare tra da 0-9 ed utilizza i seguenti fattori di rischio</span>
  <span class="t p" style="left:808.7px;top:472.0px;letter-spacing:-0.006px">con i rispettivi pesi:</span>
  <span class="t p pb" style="left:808.7px;top:490.0px;letter-spacing:-0.346px">Caratteristiche Demografiche:</span>
  <div class="abs" style="left:823.300px;top:506.2px;width:2.600px;height:2.600px;border-radius:50%;background:#333"></div>  <span class="t p" style="left:831.2px;top:507.4px;letter-spacing:-0.116px">Sesso: Femmina (+1) Maschio (0)</span>
  <div class="abs" style="left:823.300px;top:515.6px;width:2.600px;height:2.600px;border-radius:50%;background:#333"></div>  <span class="t p" style="left:831.2px;top:516.8px;letter-spacing:-0.160px">Età: &lt;65 (0); 65-74 (+1); &gt;74 (+2)</span>
  <span class="t p pb" style="left:808.7px;top:534.3px;letter-spacing:-0.443px">Comorbosità:</span>
  <div class="abs" style="left:823.300px;top:550.6px;width:2.600px;height:2.600px;border-radius:50%;background:#333"></div>  <span class="t p" style="left:831.2px;top:551.8px;letter-spacing:-0.034px">Insufficienza cardiaca congestizia (+1)</span>
  <div class="abs" style="left:831px;top:556px;width:232px;height:3px;overflow:hidden"><span class="t p" style="left:0;top:4.500px;width:229px;text-align:justify;text-align-last:justify;white-space:normal;transform:none;top:0.300px">Ipertensione con valori pressori superiori a 140/90 mmHg o</span></div>
</div>

</div>

<!-- ===== status bar ===== -->
<div id="statusbar">

  <svg style="left:7px;top:2px" width="10.500" height="10.500" viewBox="0 0 10.500 10.500" fill="none" stroke="#111" stroke-width="1.900"><path d="M8.600 3.600A3.900 3.900 0 0 0 1.700 3.600M1.900 6.900A3.900 3.900 0 0 0 8.800 6.900"/><path d="M10.300 0.300v4H6.300zM0.200 10.200v-4h4z" fill="#111" stroke="none"/></svg>
  <svg style="left:24px;top:3.200px" width="9" height="8.300" viewBox="0 0 9 8" fill="#111"><rect width="9" height="1.600"/><rect y="3.200" width="9" height="1.600"/><rect y="6.400" width="9" height="1.600"/></svg>
  <svg style="left:39px;top:2.300px" width="8" height="9.500" viewBox="0 0 8 9.500"><path d="M1.800 4.200V2.800a2.200 2.200 0 0 1 4.400 0v1.400" fill="none" stroke="#111" stroke-width="1.200"/><rect x="0" y="4.200" width="8" height="5.300" rx="0.800" fill="#111"/></svg>
  <svg style="left:51.500px;top:1.200px" width="14" height="12.400" viewBox="0 0 13 11.500"><path d="M6.500 11.500C2 8 0 6 0 3.500 0 1.400 1.500 0 3.300 0 4.600 0 5.800.8 6.500 2 7.200.8 8.400 0 9.700 0 11.500 0 13 1.400 13 3.500c0 2.500-2 4.500-6.500 8z" fill="#20c040"/><path d="M1.500 5.500h2.300l1-2 1.500 4 1.300-3 .7 1h3" fill="none" stroke="#fff" stroke-width="0.800"/></svg>
  <span class="t b" style="left:67.500px;top:8px;font-size:7.200px;color:#8b1010;letter-spacing:-0.287px">Versione: 5.8.0 (Beta) CE</span>
  <div class="abs" style="left:152.300px;top:1.800px;width:103px;height:11.500px;background:#e4e4e4;border:1px solid #b8b8b8"></div>
  <span class="t b" style="left:157.200px;top:8px;font-size:7.200px;color:#0f6877;letter-spacing:-0.338px">Utilizza la versione UFFICIALE</span>
</div>

<div id="edge"><i></i></div>
</body>
</html>
